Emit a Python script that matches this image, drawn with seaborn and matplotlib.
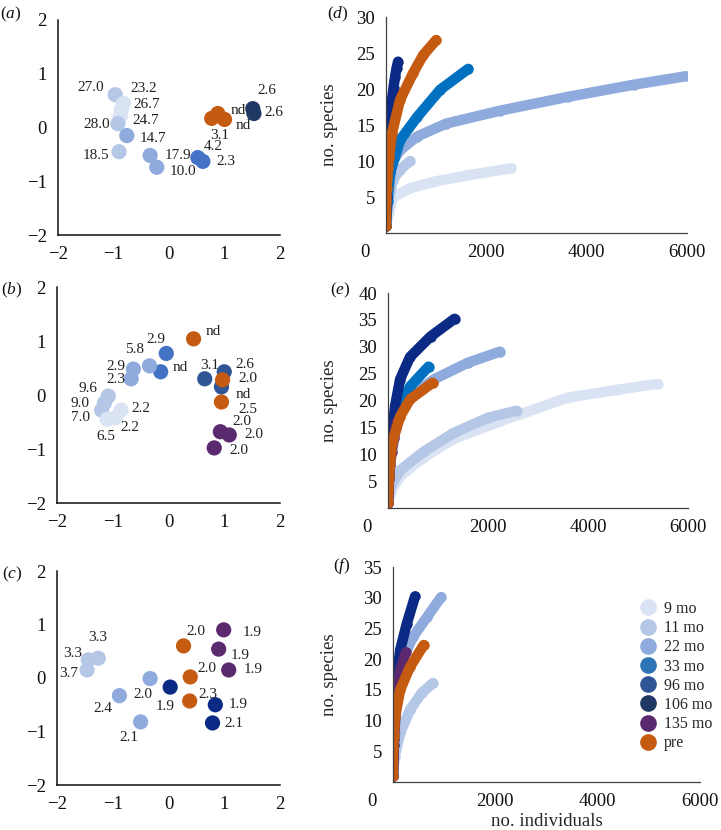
import matplotlib
matplotlib.use('Agg')
import matplotlib.pyplot as plt
import matplotlib.transforms as mtransforms
from matplotlib.lines import Line2D
import seaborn as sns
import pandas as pd

GROUPS = ["9 mo", "11 mo", "22 mo", "33 mo", "96 mo", "106 mo", "135 mo", "pre"]

# ordination scores, panel (a)
A_GROUP = ["11 mo", "9 mo", "9 mo", "9 mo", "11 mo", "22 mo", "11 mo", "22 mo", "22 mo",
           "33 mo", "33 mo", "pre", "pre", "pre", "106 mo", "106 mo"]
A_X = [-0.97, -0.82, -0.86, -0.88, -0.92, -0.76, -0.90, -0.34, -0.22, 0.52, 0.61, 0.77, 0.88, 1.00, 1.51, 1.53]
A_Y = [0.61, 0.45, 0.33, 0.20, 0.07, -0.15, -0.45, -0.52, -0.74, -0.56, -0.63, 0.17, 0.26, 0.15, 0.35, 0.26]
A_LABEL = ["27.0", "23.2", "26.7", "24.7", "28.0", "14.7", "18.5", "17.9", "10.0",
           "4.2", "2.3", "3.1", "nd", "nd", "2.6", "2.6"]

# panel (b)
B_GROUP = ["33 mo", "33 mo", "22 mo", "22 mo", "22 mo", "96 mo", "96 mo", "96 mo", "pre", "pre", "pre",
           "135 mo", "135 mo", "135 mo", "11 mo", "11 mo", "11 mo", "9 mo", "9 mo", "9 mo"]
B_X = [-0.04, -0.14, -0.34, -0.63, -0.67, 0.65, 1.00, 0.95, 0.45, 0.97, 0.95,
       0.93, 1.09, 0.82, -1.08, -1.15, -1.20, -1.10, -0.95, -0.85]
B_Y = [0.77, 0.43, 0.54, 0.48, 0.30, 0.30, 0.43, 0.15, 1.04, 0.28, -0.13,
       -0.68, -0.74, -0.98, -0.02, -0.15, -0.28, -0.45, -0.42, -0.28]
B_LABEL = ["2.9", "nd", "5.8", "2.9", "2.3", "3.1", "2.6", "nd", "nd", "2.0", "2.5",
           "2.0", "2.0", "2.0", "9.6", "9.0", "7.0", "6.5", "2.2", "2.2"]

# panel (c)
C_GROUP = ["11 mo", "11 mo", "11 mo", "22 mo", "22 mo", "22 mo", "106 mo", "106 mo", "106 mo",
           "pre", "pre", "pre", "135 mo", "135 mo", "135 mo"]
C_X = [-1.26, -1.44, -1.46, -0.88, -0.33, -0.50, 0.03, 0.84, 0.79, 0.27, 0.39, 0.38, 0.99, 0.90, 1.08]
C_Y = [0.37, 0.34, 0.15, -0.33, -0.01, -0.82, -0.17, -0.50, -0.84, 0.60, 0.02, -0.43, 0.90, 0.54, 0.15]
C_LABEL = ["3.3", "3.3", "3.7", "2.4", "2.0", "2.1", "1.9", "1.9", "2.1", "2.0", "2.0", "2.3", "1.9", "1.9", "1.9"]

# rarefaction curves: no. individuals (x) vs no. species (y)
D_X = {
    "9 mo": [0, 60, 140, 480, 940, 1620, 2500],
    "11 mo": [0, 40, 140, 280, 480],
    "22 mo": [0, 40, 120, 280, 620, 1200, 2280, 3620, 4940, 6000],
    "33 mo": [0, 30, 80, 280, 620, 1080, 1640],
    "106 mo": [0, 10, 20, 40, 60, 90, 120, 150, 180, 210, 240],
    "pre": [0, 5, 15, 25, 40, 60, 120, 280, 540, 740, 1000],
}
D_Y = {
    "9 mo": [1, 2.8, 5, 6.2, 7.1, 8, 9],
    "11 mo": [1, 4, 7.4, 8.8, 10],
    "22 mo": [1, 5, 9.7, 11.5, 13.4, 15.2, 17.0, 18.9, 20.6, 21.8],
    "33 mo": [1, 4.5, 8.3, 12.9, 16.1, 19.9, 22.8],
    "106 mo": [1, 5, 9.2, 11.5, 13.9, 16.3, 18.5, 20.2, 21.7, 22.9, 23.8],
    "pre": [1, 4.6, 6.2, 7.6, 9, 10.4, 13.9, 18.5, 22.2, 24.7, 26.8],
}
E_X = {
    "9 mo": [0, 60, 240, 700, 1300, 2240, 3580, 4580, 5400],
    "11 mo": [0, 50, 240, 700, 1300, 2000, 2570],
    "22 mo": [0, 40, 180, 440, 910, 1590, 2240],
    "33 mo": [0, 40, 240, 440, 810],
    "106 mo": [0, 20, 90, 140, 240, 440, 850, 1330],
    "pre": [0, 20, 80, 240, 440, 890],
    "135 mo": [0, 20, 40, 70, 110, 150, 180],
}
E_Y = {
    "9 mo": [1, 3, 5.9, 9.3, 12.8, 16.1, 20.5, 22.0, 23.1],
    "11 mo": [1, 4, 7, 10.4, 13.9, 16.8, 18.1],
    "22 mo": [1, 8, 16.5, 20.7, 23.9, 27.0, 29.1],
    "33 mo": [1, 10, 18.9, 22.6, 26.3],
    "106 mo": [1, 8, 14.6, 18.9, 23.9, 28.1, 31.9, 35.2],
    "pre": [1, 6, 12, 17, 20.2, 23.3],
    "135 mo": [1, 5.4, 8, 10.5, 13, 14.8, 16.1],
}
F_X = {
    "11 mo": [0, 30, 140, 330, 560, 780],
    "22 mo": [0, 30, 100, 200, 390, 660, 940],
    "106 mo": [0, 10, 30, 75, 140, 270, 430],
    "135 mo": [0, 20, 60, 140, 250],
    "pre": [0, 5, 15, 25, 40, 140, 330, 600],
}
F_Y = {
    "11 mo": [1, 4, 8, 11.7, 14.5, 16.1],
    "22 mo": [1, 8, 16, 20.3, 23.6, 26.8, 30.1],
    "106 mo": [1, 6, 13.5, 17.1, 21.5, 25.8, 30.2],
    "135 mo": [1, 7, 13, 18.2, 21.1],
    "pre": [1, 5.5, 7.5, 9, 10.6, 15, 18.7, 22.3],
}

# label offsets (pixels) for the point labels
A_OFF = [(-24, 7), (20, 15), (25, 5), (26, -4), (-21, -1), (26, -3), (-23, -4), (28, 0), (26, -4),
         (15, 11), (23, 0), (8, -17), (20, 3), (19, -6), (14, 18), (20, 1)]
B_OFF = [(-10, 14), (20, 4), (-15, 16), (-18, 3), (-15, -1), (5, 13), (21, 7), (22, -8), (20, 7),
         (25, 1), (26, -7), (22, 10), (25, 0), (25, -3), (-20, 8), (-24, 0), (-21, -7), (-1, -17),
         (14, -10), (20, 2)]
C_OFF = [(-1, 21), (-16, 6), (-18, -4), (-17, -13), (-7, -16), (-12, -16), (-5, -19), (23, 0),
         (21, -1), (12, 14), (17, 8), (18, 7), (28, -3), (21, -6), (24, 0)]

LEGEND_PAL = {"9 mo": "#dae3f3", "11 mo": "#b4c7e7", "22 mo": "#8faadc", "33 mo": "#2e75b6",
              "96 mo": "#2f5597", "106 mo": "#203864", "135 mo": "#5b2a6e", "pre": "#c55a11"}
SCATTER_PAL = dict(LEGEND_PAL, **{"33 mo": "#4472c4"})
CURVE_PAL = dict(LEGEND_PAL, **{"33 mo": "#0070c0", "106 mo": "#0b2a85"})

sns.set_style('white')
plt.rcParams['font.family'] = ['Liberation Serif', 'DejaVu Serif']
plt.rcParams['mathtext.fontset'] = 'custom'
plt.rcParams['mathtext.rm'] = 'Liberation Serif'
plt.rcParams['mathtext.it'] = 'Liberation Serif:italic'

W, H = 721, 830
fig = plt.figure(figsize=(W / 100, H / 100), dpi=100)


def px_axes(x0, y_top, x1, y_bot):
    return fig.add_axes([x0 / W, 1 - y_bot / H, (x1 - x0) / W, (y_bot - y_top) / H])


def style_axes(ax, color, lw):
    sns.despine(ax=ax)
    for s in ['left', 'bottom']:
        ax.spines[s].set_color(color)
        ax.spines[s].set_linewidth(lw)
    ax.tick_params(length=0, labelsize=13.5, pad=8, colors='#111111')


def ordination(ax, xs, ys, groups, labels, offsets, pal):
    df = pd.DataFrame({'x': xs, 'y': ys, 'group': groups})
    sns.scatterplot(data=df, x='x', y='y', hue='group', palette=pal, s=120,
                    linewidth=0, legend=False, ax=ax)
    for x, y, lab, (dx, dy) in zip(xs, ys, labels, offsets):
        ax.annotate(lab, (x, y), xytext=(dx, dy), textcoords='offset pixels',
                    ha='center', va='center', fontsize=11, color='#222222')
    ax.set_xlim(-2, 2)
    ax.set_ylim(-2, 2)
    ax.set_xticks([-2, -1, 0, 1, 2])
    ax.set_yticks([-2, -1, 0, 1, 2])
    ax.set_xlabel('')
    ax.set_ylabel('')
    style_axes(ax, '#111111', 1.1)


def rarefaction(ax, xd, yd, ymax, label_x):
    rows = []
    for g in GROUPS:
        if g in xd:
            for x, y in zip(xd[g], yd[g]):
                rows.append({'x': x, 'y': y, 'group': g})
    df = pd.DataFrame(rows)
    order = [g for g in GROUPS if g in xd]
    sns.lineplot(data=df, x='x', y='y', hue='group', hue_order=order, palette=CURVE_PAL,
                 sort=False, estimator=None, linewidth=7.5, marker='o', markersize=7.5,
                 markeredgewidth=0, solid_capstyle='round', solid_joinstyle='round',
                 legend=False, ax=ax)
    ax.set_xlim(0, 6000)
    ax.set_ylim(0, ymax)
    ax.set_xticks([0, 2000, 4000, 6000])
    ax.set_yticks(range(5, ymax + 1, 5))
    ax.set_xlabel('')
    ax.set_ylabel('no. species', fontsize=13.5)
    ax.yaxis.set_label_coords(label_x, 0.5)
    style_axes(ax, '#404040', 0.9)
    lbl = ax.get_xticklabels()[0]
    lbl.set_transform(lbl.get_transform() + mtransforms.ScaledTranslation(-0.21, 0, fig.dpi_scale_trans))


ax_a = px_axes(58, 20, 280, 235)
ax_b = px_axes(57, 287, 280, 503)
ax_c = px_axes(57, 571, 280, 785)
ax_d = px_axes(386, 17, 687, 233)
ax_e = px_axes(388, 293, 688, 508)
ax_f = px_axes(393, 567, 700, 782)

ordination(ax_a, A_X, A_Y, A_GROUP, A_LABEL, A_OFF, SCATTER_PAL)
ordination(ax_b, B_X, B_Y, B_GROUP, B_LABEL, B_OFF, SCATTER_PAL)
ordination(ax_c, C_X, C_Y, C_GROUP, C_LABEL, C_OFF, dict(SCATTER_PAL, **{"106 mo": CURVE_PAL["106 mo"]}))

rarefaction(ax_d, D_X, D_Y, 30, -0.16)
rarefaction(ax_e, E_X, E_Y, 40, -0.167)
rarefaction(ax_f, F_X, F_Y, 35, -0.18)
ax_f.set_xlabel('no. individuals', fontsize=13.5, labelpad=2)

handles = [Line2D([0], [0], marker='o', linestyle='', markersize=12, markeredgewidth=0,
                  color=LEGEND_PAL[g]) for g in GROUPS]
fig.legend(handles, GROUPS, loc='upper left', bbox_to_anchor=(640 / W, 1 - 601 / H),
           frameon=False, fontsize=11.5, labelspacing=0.2, handlelength=1.0,
           handletextpad=0.5, borderpad=0, borderaxespad=0)

for tag, x, y in [('a', 11, 14), ('b', 12, 290), ('c', 12, 574),
                  ('d', 338, 14), ('e', 340, 290), ('f', 342, 566)]:
    fig.text(x / W, 1 - y / H, r'$(\mathit{' + tag + '})$', ha='center', va='center',
             fontsize=12.5, color='#111111')

fig.savefig('out.png', dpi=100)
